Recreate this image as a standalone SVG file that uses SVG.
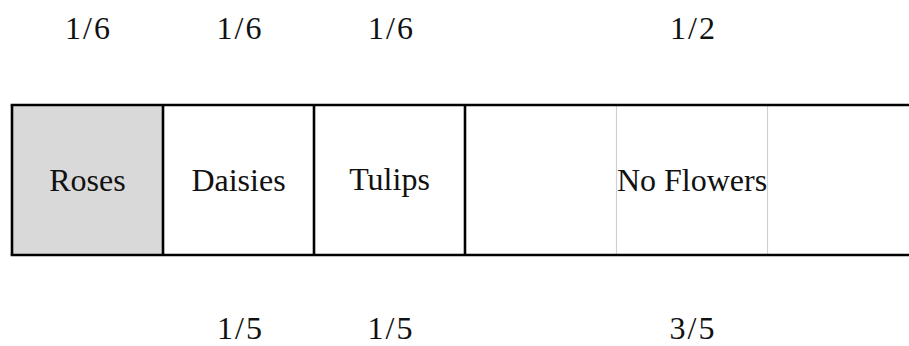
<svg xmlns="http://www.w3.org/2000/svg" width="909" height="346" viewBox="0 0 909 346">
<style>
.t{font-family:'Liberation Serif','DejaVu Serif',serif;font-size:32px;fill:#111;text-anchor:middle}
.frame{stroke:#000;stroke-width:2.6;fill:none}
.grid{stroke:#d0d0d0;stroke-width:1.2;fill:none}
</style>
<rect width="909" height="346" fill="#fff"/>
<g id="roses">
<rect x="12" y="105" width="151" height="150" fill="#d9d9d9"/>
<text class="t" x="87.5" y="191">Roses</text>
</g>
<g id="daisies">
<text class="t" x="238.5" y="191">Daisies</text>
</g>
<g id="tulips">
<text class="t" x="389.5" y="190">Tulips</text>
</g>
<g id="no-flowers">
<line class="grid" x1="616.5" y1="105" x2="616.5" y2="255"/>
<line class="grid" x1="767.5" y1="105" x2="767.5" y2="255"/>
<text class="t" x="692" y="191">No Flowers</text>
</g>
<g id="frame">
<line class="frame" x1="10.7" y1="105" x2="909" y2="105"/>
<line class="frame" x1="10.7" y1="255" x2="909" y2="255"/>
<line class="frame" x1="12" y1="105" x2="12" y2="255"/>
<line class="frame" x1="163" y1="105" x2="163" y2="255"/>
<line class="frame" x1="314" y1="105" x2="314" y2="255"/>
<line class="frame" x1="465" y1="105" x2="465" y2="255"/>
</g>
<g id="top-labels">
<text class="t" x="87.5" y="39" textLength="45" lengthAdjust="spacing">1/6</text>
<text class="t" x="239" y="39" textLength="45" lengthAdjust="spacing">1/6</text>
<text class="t" x="390.5" y="39" textLength="45" lengthAdjust="spacing">1/6</text>
<text class="t" x="692.5" y="39" textLength="45" lengthAdjust="spacing">1/2</text>
</g>
<g id="bottom-labels">
<text class="t" x="239.5" y="339" textLength="45" lengthAdjust="spacing">1/5</text>
<text class="t" x="390" y="339" textLength="45" lengthAdjust="spacing">1/5</text>
<text class="t" x="692" y="339" textLength="45" lengthAdjust="spacing">3/5</text>
</g>
<g id="connectors"></g>
</svg>
